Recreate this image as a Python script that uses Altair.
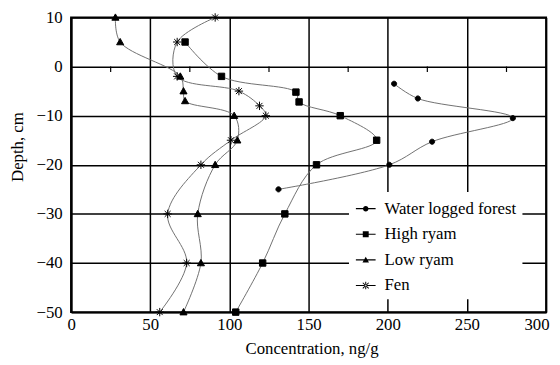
import altair as alt
import pandas as pd

series_names = ["Water logged forest", "High ryam", "Low ryam", "Fen"]

wlf_x = [204, 219, 279, 228, 201, 131]
wlf_y = [-3.5, -6.5, -10.5, -15.3, -20, -25]

high_x = [72, 95, 142, 144, 170, 193, 155, 135, 121, 104]
high_y = [5, -2, -5.2, -7.2, -10, -15, -20, -30, -40, -50]

low_x = [28, 31, 69, 71, 72, 103, 105, 91, 80, 82, 71]
low_y = [10, 5, -2, -5, -7, -10, -15, -20, -30, -40, -50]

fen_x = [91, 67, 67, 106, 119, 123, 101, 82, 61, 73, 56]
fen_y = [10, 5, -2, -5, -8, -10, -15, -20, -30, -40, -50]

x_ticks = [0, 50, 100, 150, 200, 250, 300]
y_ticks = [10, 0, -10, -20, -30, -40, -50]
minor_x = [25, 75, 125, 175, 225, 275]

rows = []
for name, xs, ys in zip(series_names, [wlf_x, high_x, low_x, fen_x], [wlf_y, high_y, low_y, fen_y]):
    for i, (xv, yv) in enumerate(zip(xs, ys)):
        rows.append({"series": name, "conc": xv, "depth": yv, "idx": i})
df = pd.DataFrame(rows)
minor_df = pd.DataFrame({"mx": minor_x})

FONT = "Liberation Serif"
FS = 17

point_paths = [
    "M0.52,0A0.52,0.52 0 1,1 -0.52,0A0.52,0.52 0 1,1 0.52,0Z",
    "M-0.65,-0.65H0.65V0.65H-0.65Z",
    "M0,-0.72L0.72,0.56H-0.72Z",
    "M0,-0.85V0.85M-0.85,0H0.85M-0.6,-0.6L0.6,0.6M-0.6,0.6L0.6,-0.6",
]
BAR = "M-1,-0.06H1V0.06H-1Z"
legend_paths = [
    BAR + "M0.28,0A0.28,0.28 0 1,1 -0.28,0A0.28,0.28 0 1,1 0.28,0Z",
    BAR + "M-0.3,-0.3H0.3V0.3H-0.3Z",
    BAR + "M0,-0.32L0.33,0.26H-0.33Z",
    BAR + "M-0.05,-0.38H0.05V0.38H-0.05Z"
    "M-0.334,-0.243L0.266,0.317L0.334,0.243L-0.266,-0.317Z"
    "M-0.266,0.317L0.334,-0.243L0.266,-0.317L-0.334,0.243Z",
]

xscale = alt.Scale(domain=[0, 300], nice=False, zero=False)
yscale = alt.Scale(domain=[-50, 10], nice=False, zero=False)

xaxis = alt.Axis(
    values=x_ticks, title="Concentration, ng/g", grid=True, ticks=False,
    labelPadding=5, labelFlush=False,
    labelAlign={"condition": {"test": "datum.value === 300", "value": "right"}, "value": "center"},
    labelOffset={"condition": {"test": "datum.value === 300", "value": 3}, "value": 0},
    titleX=244, titleY=42, titleBaseline="alphabetic", titleAnchor="middle",
)
yaxis = alt.Axis(
    values=y_ticks, title="Depth, cm", grid=True, ticks=False, labelFlush=False,
    labelPadding=9, titleX=-49, titleY=131, titleAngle=-90,
    titleBaseline="alphabetic", titleAlign="center",
)

base = alt.Chart(df)

lines = base.mark_line(color="#707070", strokeWidth=1, interpolate="catmull-rom").encode(
    x=alt.X("conc:Q", scale=xscale, axis=xaxis),
    y=alt.Y("depth:Q", scale=yscale, axis=yaxis),
    detail="series:N",
    order="idx:Q",
)

points = base.mark_point(filled=True, fill="black", stroke="black", strokeWidth=1, opacity=1, size=100).encode(
    x=alt.X("conc:Q", scale=xscale),
    y=alt.Y("depth:Q", scale=yscale),
    shape=alt.Shape("series:N", scale=alt.Scale(domain=series_names, range=point_paths), legend=None),
)

legend_layer = base.transform_filter("false").mark_point(
    filled=True, color="black", opacity=1
).encode(
    x=alt.X("conc:Q", scale=xscale),
    y=alt.Y("depth:Q", scale=yscale),
    shape=alt.Shape(
        "series:N",
        scale=alt.Scale(domain=series_names, range=legend_paths),
        legend=alt.Legend(
            title=None, orient="none", legendX=282, legendY=177,
            fillColor="white", padding=6, symbolSize=400,
            symbolFillColor="black", symbolOpacity=1,
            labelFont=FONT, labelFontSize=FS, labelColor="black",
            labelOffset=8, rowPadding=7, labelLimit=300,
        ),
    ),
)

minor = alt.Chart(minor_df).mark_rule(color="black", strokeWidth=1.2).encode(
    x=alt.X("mx:Q", scale=xscale),
    y=alt.datum(0),
    y2=alt.datum(-1.1),
)

chart = alt.layer(lines, minor, points, legend_layer).resolve_scale(shape="independent").properties(
    width=482, height=299,
    autosize=alt.AutoSizeParams(type="none"),
    padding={"left": 64, "top": 7, "right": 6, "bottom": 47},
).configure_view(
    stroke="black", strokeWidth=2
).configure_axis(
    labelFont=FONT, labelFontSize=FS, labelColor="black",
    titleFont=FONT, titleFontSize=FS, titleColor="black", titleFontWeight="normal",
    domainColor="black", domainWidth=2,
    gridColor="black", gridWidth=1.5, gridOpacity=1,
)

chart.save("out.html", embed_options={"renderer": "svg", "actions": False})
